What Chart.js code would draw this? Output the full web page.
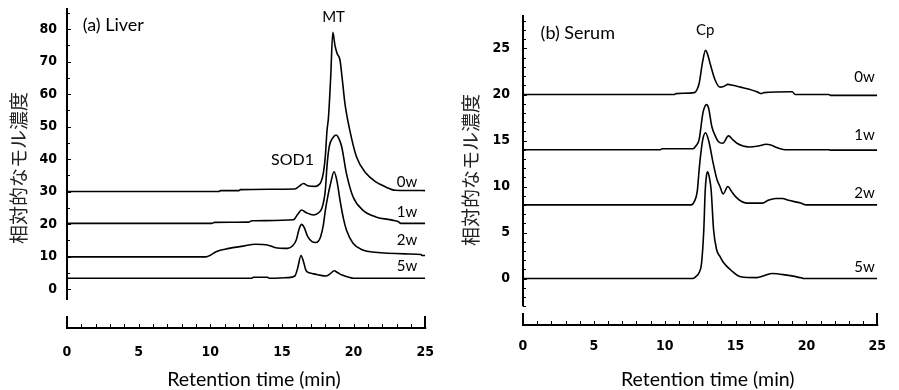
<!DOCTYPE html>
<html>
<head>
<meta charset="utf-8">
<script src="https://cdn.jsdelivr.net/npm/chart.js@4.4.1/dist/chart.umd.min.js"></script>
<style>
  html, body { margin: 0; padding: 0; background: #fff; }
  #wrap { position: relative; width: 899px; height: 390px; }
  #liverBox { position: absolute; left: 0; top: 0; width: 450px; height: 390px; }
  #serumBox { position: absolute; left: 450px; top: 0; width: 449px; height: 390px; }
</style>
</head>
<body>
<div id="wrap">
  <div id="liverBox"><canvas id="liver" width="450" height="390"></canvas></div>
  <div id="serumBox"><canvas id="serum" width="449" height="390"></canvas></div>
</div>
<script>
/* chromatogram traces: [retention time (min), relative molar conc.] */

var xTicks = [0, 5, 10, 15, 20, 25];
var liverYTicks = [0, 10, 20, 30, 40, 50, 60, 70, 80];
var serumYTicks = [0, 5, 10, 15, 20, 25];
var weekLabels = ['0w', '1w', '2w', '5w'];
var xTitle = 'Retention time (min)';

// (a) Liver
var liver0w = [[0,30],[10.6,30],[10.7,30.3],[12.0,30.3],[12.1,30.6],[15.9,30.8],[16.2,31.6],[16.5,32.5],
  [16.8,31.8],[17.35,31.6],[17.6,32.2],[17.73,33],[17.9,36],[18.03,41],[18.14,48.5],[18.25,53],[18.4,65],
  [18.55,79],[18.7,75],[18.85,72.5],[19.05,70.5],[19.2,65],[19.4,57],[19.73,49],[20.2,40.7],[20.87,35.6],
  [21.55,33.0],[22.2,31.5],[22.9,30.4],[25,30.3]];
var liver1w = [[0,20.2],[10.1,20.2],[10.3,20.5],[12.7,20.6],[12.9,21],[15.8,21.3],[16.1,23],[16.37,24.3],
  [16.7,23.5],[17.2,22.8],[17.5,23.3],[17.8,25],[18.03,30.5],[18.14,37.6],[18.3,43.8],[18.55,46.5],
  [18.78,47.4],[18.95,46.5],[19.17,43.8],[19.5,35.6],[19.96,28.4],[20.64,24.3],[21.55,22.2],[22.7,21.2],
  [23.1,20.8],[23.3,20.2],[25,20.2]];
var liver2w = [[0,9.9],[9.7,9.9],[10.0,10.4],[10.4,11.5],[11.3,12.5],[12.3,13.2],[13.15,13.8],[14.05,13.5],
  [14.5,12.8],[15.4,12.5],[15.75,13.3],[16.0,15.1],[16.2,18.5],[16.37,19.9],[16.55,19.0],[16.8,16.1],
  [17.1,14.6],[17.35,14.3],[17.55,14.8],[17.7,16.1],[17.9,20],[18.03,24.3],[18.2,28.5],[18.37,32],
  [18.64,36.1],[18.85,33],[19.05,27.4],[19.3,21.5],[19.5,18.2],[19.96,14.1],[20.64,12.0],[21.5,11.3],
  [23.8,10.8],[24.7,10.6],[24.8,10.3],[25,10.3]];
var liver5w = [[0,3.3],[12.9,3.3],[13.0,3.6],[14.0,3.6],[14.1,3.3],[15.4,3.5],[15.9,4.0],[16.1,6.5],
  [16.33,10.3],[16.5,8.5],[16.67,5.8],[16.9,5.0],[17.1,4.8],[17.5,4.4],[18.1,4.0],[18.4,4.8],[18.64,5.6],
  [18.9,5.0],[19.2,4.3],[19.7,3.6],[20.0,3.3],[25,3.3]];

// (b) Serum
var serum0w = [[0,20],[10.7,20],[10.8,20.1],[12.1,20.2],[12.3,20.6],[12.43,21.2],[12.66,23.4],[12.88,24.8],
  [13.0,24.5],[13.2,23.4],[13.55,21.6],[13.9,20.8],[14.2,20.9],[14.46,21.1],[14.8,21.0],[15.36,20.8],
  [15.9,20.6],[16.5,20.3],[16.8,20.1],[17.0,20.2],[19.0,20.3],[19.2,20.0],[21.6,20.0],[21.7,19.9],[25,19.9]];
var serum1w = [[0,14],[9.7,14],[9.8,14.1],[12.0,14.1],[12.2,14.4],[12.43,15.1],[12.7,18.0],[12.95,18.9],
  [13.1,18.5],[13.33,16.5],[13.6,15.4],[13.78,14.9],[14.1,14.7],[14.5,15.5],[14.8,15.1],[15.1,14.7],
  [15.95,14.3],[16.6,14.4],[17.16,14.6],[17.5,14.5],[17.8,14.3],[18.5,14.0],[21.6,14.0],[21.7,13.95],[25,13.95]];
var serum2w = [[0,8],[11.87,8],[12.1,8.4],[12.3,9.5],[12.43,11.8],[12.55,13.6],[12.7,15.2],[12.88,15.85],
  [13.1,15.0],[13.44,12.4],[13.7,10.7],[13.9,10],[14.12,9.2],[14.46,10.0],[14.7,9.5],[15.0,8.9],[15.4,8.4],
  [15.8,8.2],[16.9,8.2],[17.3,8.5],[17.84,8.7],[18.3,8.7],[18.74,8.5],[19.6,8.2],[20.0,8.0],[25,8.0]];
var serum5w = [[0,0],[12.0,0],[12.2,0.2],[12.45,0.7],[12.6,1.65],[12.76,5.3],[12.86,9.6],[12.95,11.2],
  [13.04,11.6],[13.15,11.0],[13.28,9.6],[13.45,5.3],[13.67,3.1],[13.9,2.4],[14.12,1.8],[14.68,0.9],
  [15.36,0.2],[16.5,0.1],[17.0,0.3],[17.6,0.55],[18.5,0.4],[19.7,0.05],[19.8,0],[25,0]];

var tickFont = { family: "'Liberation Sans Narrow', 'DejaVu Sans Condensed', sans-serif", size: 14, weight: 'bold' };
var textFamily = "Lato, 'Open Sans', sans-serif";

// axis lines drawn by hand: y axis stops above the detached x axis, ticks point inwards
var frameAxes = {
  id: 'frameAxes',
  afterDraw: function(chart, args, opts) {
    var ctx = chart.ctx, xs = chart.scales.x, ys = chart.scales.y, a = chart.chartArea;
    var yl = Math.round(a.left);
    var xb = Math.round(a.bottom);
    ctx.save();
    ctx.strokeStyle = '#000';
    ctx.lineCap = 'butt';
    ctx.lineWidth = 2;
    ctx.beginPath();
    ctx.moveTo(yl, a.top);
    ctx.lineTo(yl, ys.getPixelForValue(opts.yEnd));
    ctx.stroke();
    ctx.lineWidth = 1;
    for (var v = opts.yFirst; v <= ys.max; v += opts.yMinor) {
      var py = Math.round(ys.getPixelForValue(v)) + 0.5;
      var len = (v % opts.yMajor === 0) ? 4 : 3;
      ctx.beginPath();
      ctx.moveTo(yl, py);
      ctx.lineTo(yl + len, py);
      ctx.stroke();
    }
    ctx.lineWidth = 2;
    ctx.beginPath();
    ctx.moveTo(xs.getPixelForValue(xs.min) - 1, xb);
    ctx.lineTo(xs.getPixelForValue(xs.max) + 1, xb);
    ctx.stroke();
    for (var t = xs.min; t <= xs.max; t += 1) {
      var px = Math.round(xs.getPixelForValue(t));
      var end = (t === xs.min || t === xs.max);
      ctx.lineWidth = end ? 2 : 1;
      ctx.beginPath();
      ctx.moveTo(end ? px : px + 0.5, xb);
      ctx.lineTo(end ? px : px + 0.5, xb - (end ? 12 : 4));
      ctx.stroke();
    }
    ctx.restore();
  }
};

// panel captions, peak names, week labels and axis title, placed in data units
var peakText = {
  id: 'peakText',
  afterDatasetsDraw: function(chart, args, opts) {
    var ctx = chart.ctx, xs = chart.scales.x, ys = chart.scales.y;
    ctx.save();
    ctx.fillStyle = '#000';
    ctx.textBaseline = 'middle';
    opts.items.forEach(function(t) {
      ctx.font = t.size + 'px ' + textFamily;
      ctx.textAlign = t.align;
      ctx.fillText(t.text, xs.getPixelForValue(t.x), ys.getPixelForValue(t.y));
    });
    ctx.restore();
  }
};

function toPoints(arr) {
  return arr.map(function(p) { return { x: p[0], y: p[1] }; });
}

function makePanel(id, series, yTicks, yMin, yMax, frame, texts, yWidth, yPad, xHeight, pad, xPad, titlePad) {
  var datasets = series.map(function(s, i) {
    return {
      label: weekLabels[i],
      data: toPoints(s),
      borderColor: '#000',
      borderWidth: 1.6,
      pointRadius: 0,
      fill: false,
      cubicInterpolationMode: 'monotone'
    };
  });
  return new Chart(document.getElementById(id), {
    type: 'line',
    data: { datasets: datasets },
    plugins: [frameAxes, peakText],
    options: {
      responsive: false,
      animation: false,
      devicePixelRatio: 1,
      layout: { padding: pad },
      plugins: {
        legend: { display: false },
        tooltip: { enabled: false },
        frameAxes: frame,
        peakText: { items: texts }
      },
      scales: {
        x: {
          type: 'linear',
          min: 0,
          max: 25,
          afterBuildTicks: function(s) { s.ticks = xTicks.map(function(v) { return { value: v }; }); },
          afterFit: function(s) { s.height = xHeight; },
          grid: { display: false, drawTicks: false },
          border: { display: false },
          ticks: { color: '#000', font: tickFont, padding: xPad, maxRotation: 0 }
        },
        y: {
          type: 'linear',
          min: yMin,
          max: yMax,
          afterBuildTicks: function(s) { s.ticks = yTicks.map(function(v) { return { value: v }; }); },
          afterFit: function(s) { s.width = yWidth; s.paddingTop = 0; s.paddingBottom = 0; },
          grid: { display: false, drawTicks: false },
          border: { display: false },
          ticks: { color: '#000', font: tickFont, padding: yPad },
          title: {
            display: true,
            text: '相対的なモル濃度',
            color: '#222',
            font: { family: "'Noto Sans CJK JP', sans-serif", size: 19 },
            padding: { top: titlePad, bottom: 0 }
          }
        }
      }
    }
  });
}

makePanel('liver', [liver0w, liver1w, liver2w, liver5w], liverYTicks, -12, 86.5,
  { yEnd: -3.4, yFirst: 0, yMinor: 5, yMajor: 10 },
  [
    { text: '(a) Liver', x: 1.1, y: 81.2, size: 18, align: 'left' },
    { text: 'MT', x: 18.6, y: 83.7, size: 15, align: 'center' },
    { text: 'SOD1', x: 15.74, y: 39.7, size: 16, align: 'center' },
    { text: weekLabels[0], x: 24.45, y: 33, size: 15, align: 'right' },
    { text: weekLabels[1], x: 24.45, y: 23.8, size: 15, align: 'right' },
    { text: weekLabels[2], x: 24.45, y: 15.1, size: 15, align: 'right' },
    { text: weekLabels[3], x: 24.45, y: 6.9, size: 15, align: 'right' },
    { text: xTitle, x: 13.05, y: -28.0, size: 19.5, align: 'center' }
  ],
  67, 10, 62, { top: 8, right: 16, left: 0, bottom: 0 }, 16, 7);

makePanel('serum', [serum0w, serum1w, serum2w, serum5w], serumYTicks, -5.05, 28.64,
  { yEnd: -3.0, yFirst: -3, yMinor: 1, yMajor: 5 },
  [
    { text: '(b) Serum', x: 1.24, y: 26.7, size: 18, align: 'left' },
    { text: 'Cp', x: 12.86, y: 27.0, size: 15, align: 'center' },
    { text: weekLabels[0], x: 24.83, y: 21.9, size: 15, align: 'right' },
    { text: weekLabels[1], x: 24.83, y: 15.6, size: 15, align: 'right' },
    { text: weekLabels[2], x: 24.83, y: 9.26, size: 15, align: 'right' },
    { text: weekLabels[3], x: 24.83, y: 1.28, size: 15, align: 'right' },
    { text: xTitle, x: 13.04, y: -11.03, size: 19.5, align: 'center' }
  ],
  73, 13, 65, { top: 15, right: 7, left: 0, bottom: 0 }, 13, 9);
</script>
</body>
</html>
